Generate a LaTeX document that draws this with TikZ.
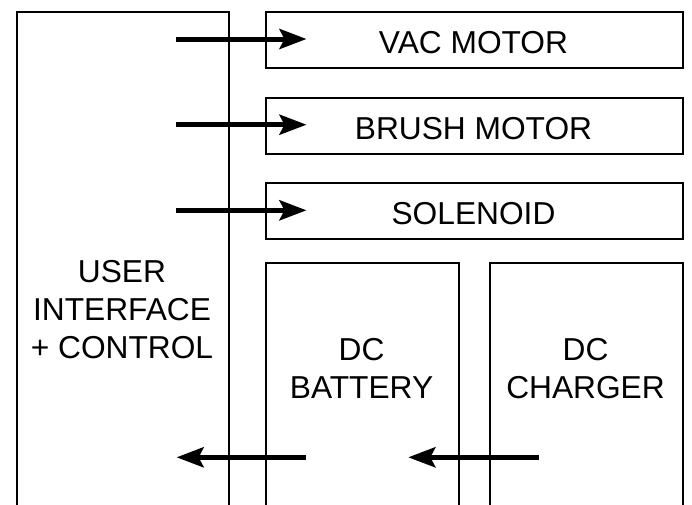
\documentclass[tikz,border=0pt]{standalone}
\usepackage{fontspec}
\setmainfont{Liberation Sans}
\usetikzlibrary{arrows.meta}
\begin{document}
\begin{tikzpicture}[x=1pt,y=-1pt,
  box/.style={draw, line width=2pt, rectangle, inner sep=0pt, anchor=north west},
  lbl/.style={font=\fontsize{31.7}{38}\selectfont, align=center, inner sep=0pt},
  flow/.style={line width=5pt, -{Stealth[length=27pt 0 0,width=20pt 0 0,inset=5pt 0]}}]
\useasboundingbox (0,0) rectangle (692,504);
\fill[white] (0,0) rectangle (692,504);
\clip (0,0) rectangle (692,504);
% boxes
\node[box, minimum width=212.5pt, minimum height=560pt] (ui) at (15.5,11) {};
\node[box, minimum width=417pt, minimum height=56pt] (vac) at (265,11) {};
\node[box, minimum width=417pt, minimum height=56pt] (brush) at (265,97) {};
\node[box, minimum width=417pt, minimum height=56pt] (sol) at (265,182) {};
\node[box, minimum width=193pt, minimum height=300pt] (bat) at (265,262) {};
\node[box, minimum width=193pt, minimum height=300pt] (chg) at (489,262) {};
% labels
\node[lbl, anchor=base] (tvac) at (473.5,53.3) {VAC MOTOR};
\node[lbl, anchor=base] (tbrush) at (473.5,139.3) {BRUSH MOTOR};
\node[lbl, anchor=base] (tsol) at (473.5,224.3) {SOLENOID};
\node[lbl] (tui) at (122,309.5) {USER\\INTERFACE\\+ CONTROL};
\node[lbl] (tbat) at (361.5,368.5) {DC\\BATTERY};
\node[lbl] (tchg) at (585.5,368.5) {DC\\CHARGER};
% connector ends
\coordinate (a1s) at (176,39);   \coordinate (a1e) at (306.5,39);
\coordinate (a2s) at (176,124.7); \coordinate (a2e) at (306.5,124.7);
\coordinate (a3s) at (176,210.3); \coordinate (a3e) at (306.5,210.3);
\coordinate (b1s) at (306.4,457.3); \coordinate (b1e) at (176.6,457.3);
\coordinate (b2s) at (538.5,457.3); \coordinate (b2e) at (408.3,457.3);
\draw[flow] (a1s) -- (a1e);
\draw[flow] (a2s) -- (a2e);
\draw[flow] (a3s) -- (a3e);
\draw[flow] (b1s) -- (b1e);
\draw[flow] (b2s) -- (b2e);
\end{tikzpicture}
\end{document}
